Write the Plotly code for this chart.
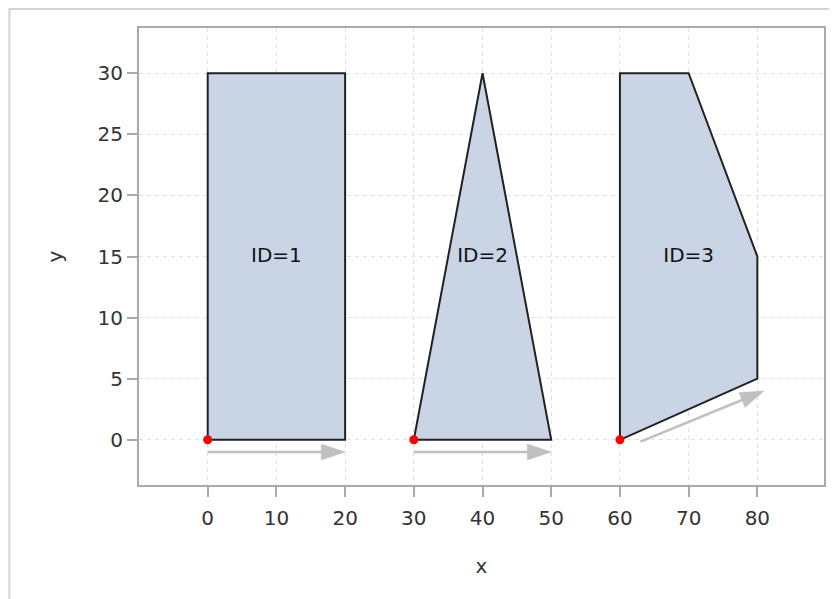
import math
import plotly.graph_objects as go

# ---- data ----
poly_ids = [1, 2, 3]
poly1_x = [0, 0, 20, 20]
poly1_y = [0, 30, 30, 0]
poly2_x = [30, 40, 50]
poly2_y = [0, 30, 0]
poly3_x = [60, 60, 70, 80, 80]
poly3_y = [0, 30, 30, 15, 5]
label_x = [10, 40, 70]
label_y = [15, 15, 15]
labels = ["ID=1", "ID=2", "ID=3"]
arrow_x0 = [0, 30, 63]
arrow_y0 = [-1, -1, -0.15]
arrow_x1 = [20, 50, 81]
arrow_y1 = [-1, -1, 4.0]
x_ticks = [0, 10, 20, 30, 40, 50, 60, 70, 80]
y_ticks = [0, 5, 10, 15, 20, 25, 30]

# ---- layout geometry (figure sits at an 8px page offset) ----
W, H = 829, 591
ML, MR, MT, MB = 131, 11, 20, 114
XR = [-10, 89.7]
YR = [-3.7, 33.7]
pw, ph = W - ML - MR, H - MT - MB
sx = pw / (XR[1] - XR[0])
sy = ph / (YR[1] - YR[0])

FONT = "DejaVu Sans, Liberation Sans, Arial, sans-serif"
TXT = "#333333"
FRAME = "#A7ABAF"
GRID = "#E1E1E1"
FILL = "#C9D4E5"
EDGE = "#222222"
ARROW = "#C0C0C0"
FS = 20

fig = go.Figure()

polys = [(poly1_x, poly1_y), (poly2_x, poly2_y), (poly3_x, poly3_y)]
for px, py in polys:
    fig.add_trace(go.Scatter(
        x=px + [px[0]], y=py + [py[0]], mode="lines", fill="toself",
        fillcolor=FILL, line=dict(color=EDGE, width=2),
        hoverinfo="skip", showlegend=False))

# arrows
HL, HW = 24, 8
for x0, y0, x1, y1 in zip(arrow_x0, arrow_y0, arrow_x1, arrow_y1):
    dxp = (x1 - x0) * sx
    dyp = (y1 - y0) * sy
    L = math.hypot(dxp, dyp)
    ux, uy = dxp / L, dyp / L
    bx, by = -ux * HL, -uy * HL
    nx, ny = -uy * HW, ux * HW
    base_x = x1 + bx / sx
    base_y = y1 + by / sy
    fig.add_trace(go.Scatter(
        x=[x0, base_x + ux * 2 / sx], y=[y0, base_y + uy * 2 / sy], mode="lines",
        line=dict(color=ARROW, width=2.6), hoverinfo="skip", showlegend=False))
    hx = [x1, x1 + (bx + nx) / sx, x1 + (bx - nx) / sx, x1]
    hy = [y1, y1 + (by + ny) / sy, y1 + (by - ny) / sy, y1]
    fig.add_trace(go.Scatter(
        x=hx, y=hy, mode="lines", fill="toself", fillcolor=ARROW,
        line=dict(color=ARROW, width=0.5), hoverinfo="skip", showlegend=False))

# start points
fig.add_trace(go.Scatter(
    x=[p[0][0] for p in polys], y=[p[1][0] for p in polys], mode="markers",
    marker=dict(color="#FF0000", size=9, line=dict(width=0)),
    hoverinfo="skip", showlegend=False))

# labels
fig.add_trace(go.Scatter(
    x=label_x, y=label_y, mode="text", text=labels,
    textfont=dict(family=FONT, size=FS, color="#111111"),
    hoverinfo="skip", showlegend=False))

# outer border (left and top edges visible)
fig.add_shape(type="rect", xref="paper", yref="paper",
              x0=(1 - ML) / pw, x1=(W + 20 - ML) / pw,
              y0=(H - MB - (H + 20)) / ph, y1=(H - MB - 1) / ph,
              line=dict(color="#D4D4D4", width=2), layer="below")

axis_common = dict(
    showline=True, mirror=True, linecolor=FRAME, linewidth=2,
    ticks="outside", ticklen=10, tickcolor=FRAME, tickwidth=1.5,
    showgrid=True, gridcolor=GRID, griddash="4px,4px", gridwidth=1,
    zeroline=False, tickfont=dict(family=FONT, size=FS, color=TXT),
)

fig.update_layout(
    width=W, height=H,
    margin=dict(l=ML, r=MR, t=MT, b=MB, pad=0),
    paper_bgcolor="white", plot_bgcolor="white",
    xaxis=dict(range=XR, tickvals=x_ticks, ticktext=[str(v) for v in x_ticks],
               ticklabelstandoff=4,
               title=dict(text="x", font=dict(family=FONT, size=FS, color=TXT), standoff=30),
               **axis_common),
    yaxis=dict(range=YR, tickvals=y_ticks, ticktext=[str(v) for v in y_ticks],
               title=dict(text="y", font=dict(family=FONT, size=FS, color=TXT), standoff=30),
               **axis_common),
)

fig.write_html("out.html")
